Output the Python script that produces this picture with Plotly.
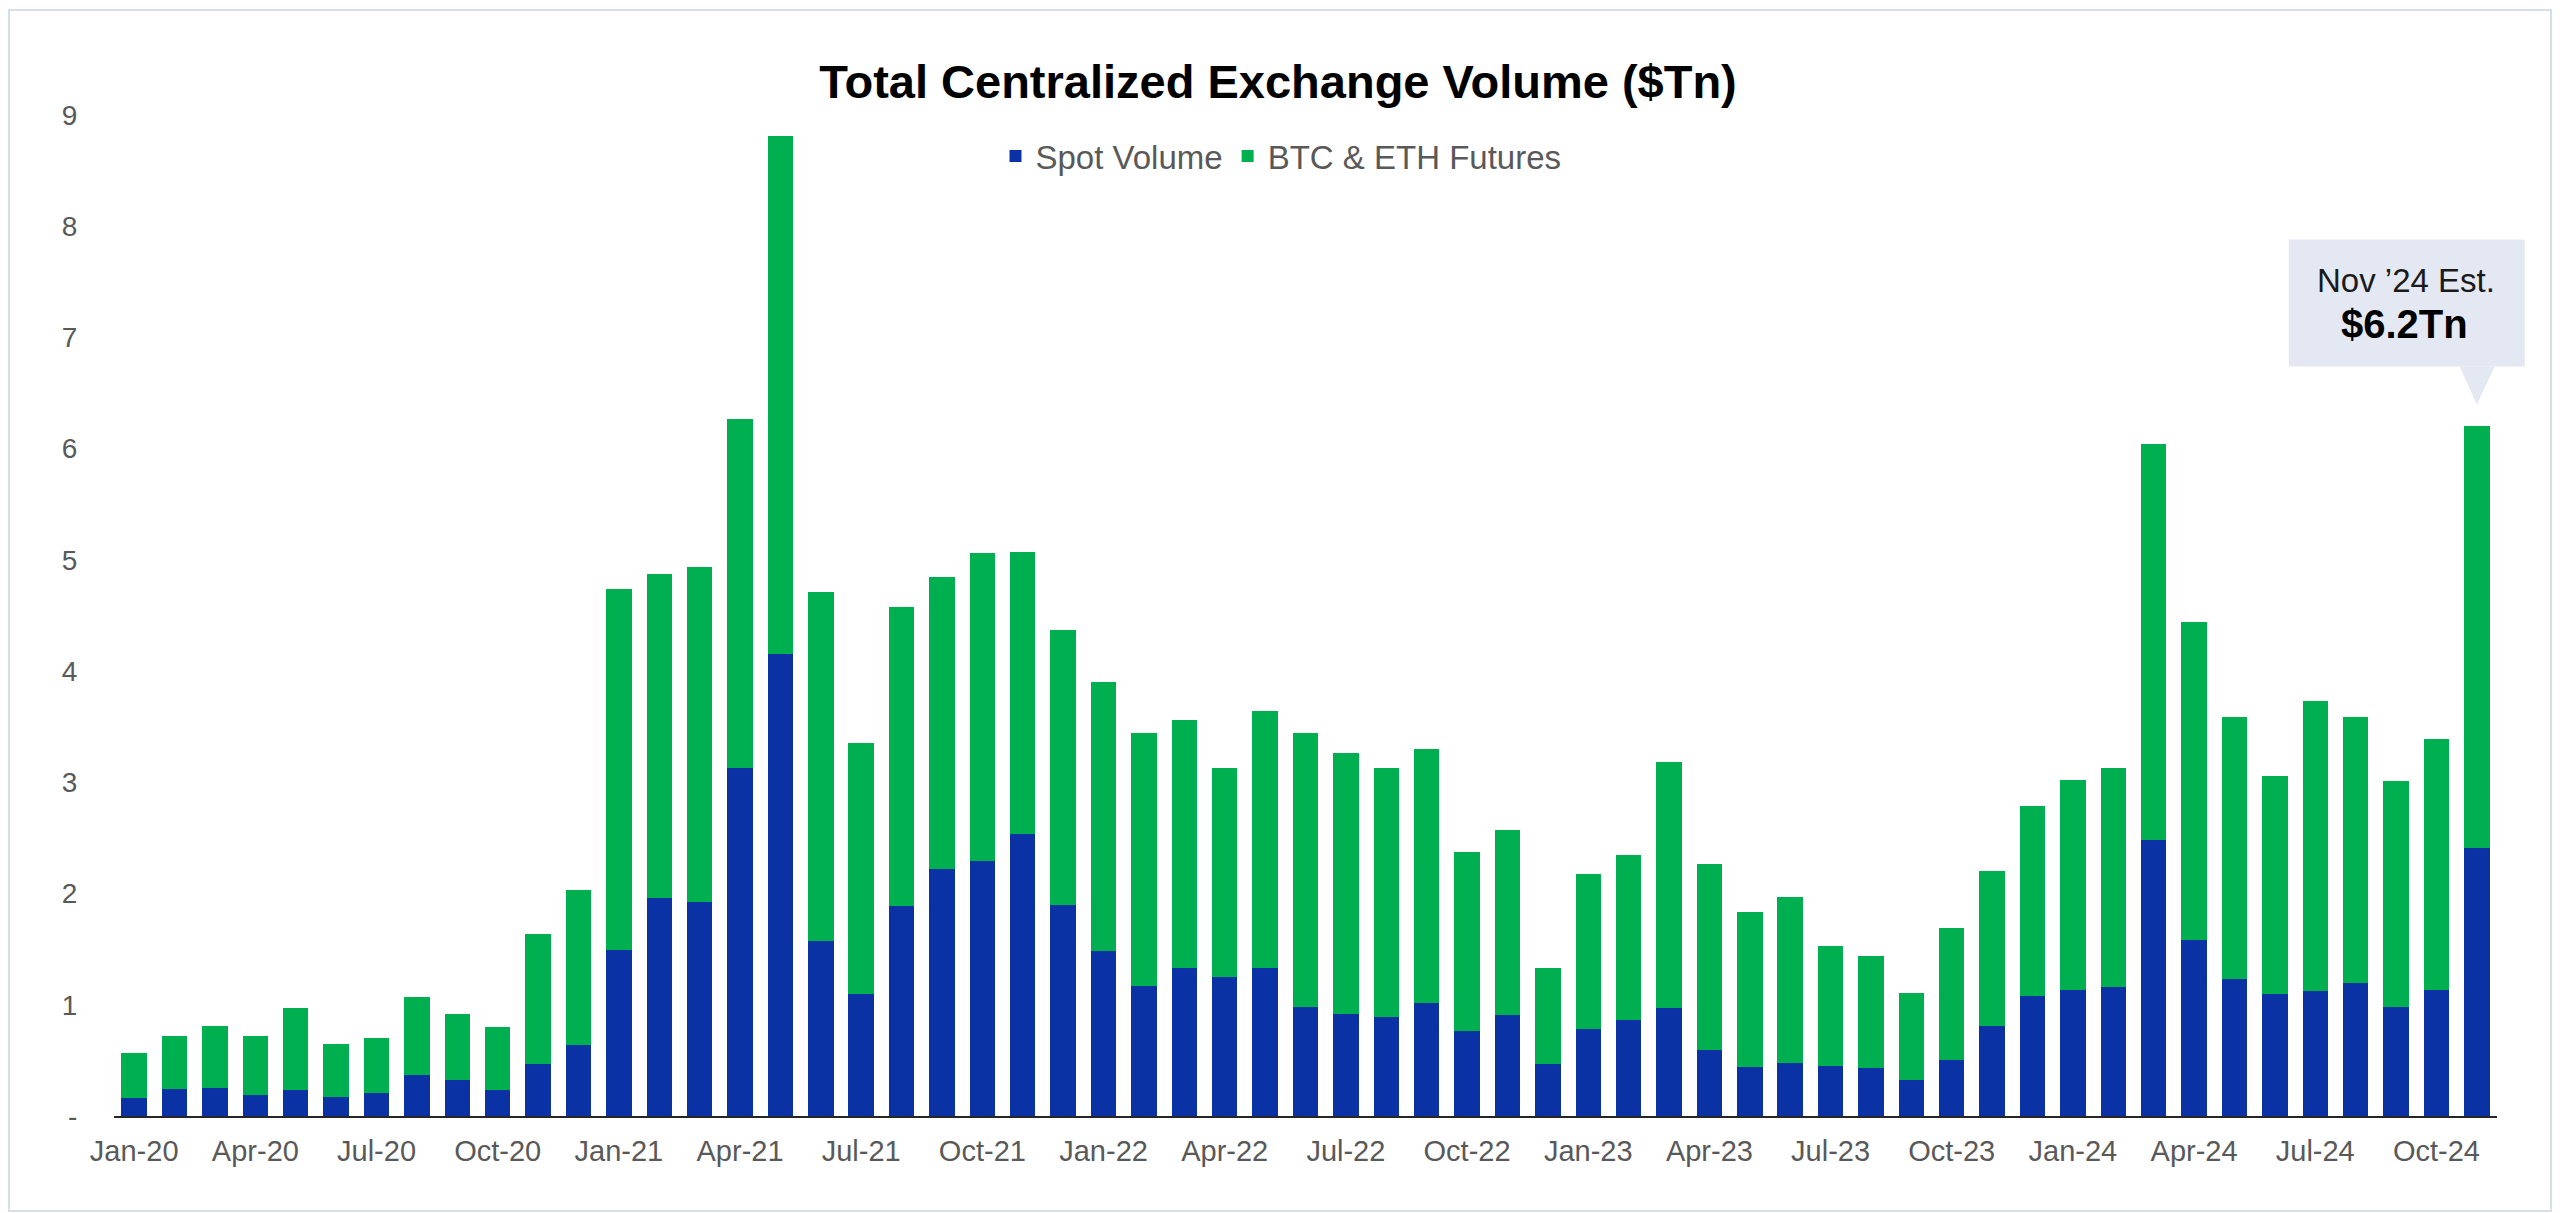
import pandas as pd
import plotly.graph_objects as go

# ---- data ----
months = list(pd.date_range("2020-01-01", periods=59, freq="MS").strftime("%b-%y"))

spot_volume = [
    0.16, 0.24, 0.25, 0.19, 0.23, 0.17, 0.21, 0.37, 0.32, 0.23, 0.47, 0.64,
    1.49, 1.96, 1.92, 3.13, 4.15, 1.57, 1.10, 1.89, 2.22, 2.29, 2.54, 1.90,
    1.48, 1.17, 1.33, 1.25, 1.33, 0.98, 0.92, 0.89, 1.02, 0.76, 0.91, 0.47,
    0.78, 0.86, 0.97, 0.59, 0.44, 0.48, 0.45, 0.43, 0.32, 0.50, 0.81, 1.08,
    1.13, 1.16, 2.48, 1.58, 1.23, 1.10, 1.12, 1.20, 0.98, 1.13, 2.41,
]

btc_eth_futures = [
    0.41, 0.48, 0.56, 0.53, 0.74, 0.48, 0.49, 0.70, 0.60, 0.57, 1.17, 1.39,
    3.25, 2.91, 3.02, 3.14, 4.66, 3.14, 2.25, 2.69, 2.63, 2.77, 2.53, 2.47,
    2.42, 2.27, 2.23, 1.88, 2.31, 2.46, 2.34, 2.24, 2.28, 1.61, 1.66, 0.86,
    1.40, 1.49, 2.21, 1.68, 1.39, 1.49, 1.08, 1.01, 0.79, 1.19, 1.39, 1.71,
    1.89, 1.97, 3.56, 2.86, 2.36, 1.96, 2.61, 2.39, 2.03, 2.26, 3.79,
]

x_tick_vals = months[::3]
y_tick_vals = [0, 1, 2, 3, 4, 5, 6, 7, 8, 9]
y_tick_text = ["-", "1", "2", "3", "4", "5", "6", "7", "8", "9"]

title_text = "Total Centralized Exchange Volume ($Tn)"
callout_label = "Nov \u201924 Est."

# ---- styling ----
FONT = "Liberation Sans, Arial, sans-serif"
BLUE = "#0B32A4"
GREEN = "#00AF50"
GREY = "#595959"

W, H = 2560, 1213
ML, MR, MT, MB = 106, 71, 107, 105
PW, PH = W - ML - MR, H - MT - MB
Y_MAX = y_tick_vals[-1]

fig = go.Figure()
fig.add_trace(go.Bar(x=months, y=spot_volume, name="Spot Volume",
                     marker=dict(color=BLUE, line=dict(width=0))))
fig.add_trace(go.Bar(x=months, y=btc_eth_futures, name="BTC & ETH Futures",
                     marker=dict(color=GREEN, line=dict(width=0))))

last_cat = months[-1]
last_total = spot_volume[-1] + btc_eth_futures[-1]
# anchor of the last bar's top, in paper fractions (so the callout is not clipped)
anchor_x = (len(months) - 1 + 0.5) / len(months)
anchor_y = last_total / Y_MAX

# callout box + pointer anchored to the last bar
fig.add_shape(type="rect", xref="paper", yref="paper", xsizemode="pixel", ysizemode="pixel",
              xanchor=anchor_x, yanchor=anchor_y,
              x0=-188, x1=48, y0=60, y1=187,
              fillcolor="#E4E8F2", line=dict(width=0), layer="above")
fig.add_shape(type="path", xref="paper", yref="paper", xsizemode="pixel", ysizemode="pixel",
              xanchor=anchor_x, yanchor=anchor_y,
              path="M -17,60 L 18,60 L 0,22 Z",
              fillcolor="#E4E8F2", line=dict(width=0), layer="above")
fig.add_annotation(x=last_cat, y=last_total, xref="x", yref="y",
                   text=callout_label, showarrow=False,
                   xshift=-71, yshift=146,
                   font=dict(family=FONT, size=33, color="#1a1a1a"))
fig.add_annotation(x=last_cat, y=last_total, xref="x", yref="y",
                   text=f"<b>${last_total:.1f}Tn</b>", showarrow=False,
                   xshift=-72, yshift=102,
                   font=dict(family=FONT, size=40, color="#000000"))

# outer chart border
fig.add_shape(type="rect", xref="paper", yref="paper",
              x0=(1 - ML) / PW, x1=(2543 - ML) / PW,
              y0=(H - MB - 1203) / PH, y1=(H - MB - 2) / PH,
              line=dict(color="#D6DEEB", width=2), fillcolor="rgba(0,0,0,0)", layer="below")

fig.update_layout(
    barmode="stack",
    bargap=0.37,
    width=W, height=H,
    paper_bgcolor="white", plot_bgcolor="white",
    margin=dict(l=ML, r=MR, t=MT, b=MB, autoexpand=False),
    title=dict(text=title_text, x=1270 / W, xref="container", xanchor="center",
               y=1 - 74 / H, yref="container", yanchor="middle",
               font=dict(family=FONT, size=47, color="#000000", weight="bold")),
    legend=dict(orientation="h", x=(1273 - ML) / PW, xanchor="center",
                y=(H - MB - 148) / PH, yanchor="middle",
                font=dict(family=FONT, size=33, color=GREY),
                bgcolor="rgba(0,0,0,0)", traceorder="normal"),
    showlegend=True,
    font=dict(family=FONT),
)

fig.update_xaxes(
    type="category", categoryorder="array", categoryarray=months,
    tickmode="array", tickvals=x_tick_vals, ticktext=x_tick_vals,
    tickfont=dict(family=FONT, size=29, color=GREY),
    ticks="outside", ticklen=8, tickcolor="rgba(0,0,0,0)",
    showline=True, linecolor="#262626", linewidth=2,
    showgrid=False, zeroline=False, range=[-0.5, len(months) - 0.5],
)
fig.update_yaxes(
    range=[0, Y_MAX], tickmode="array", tickvals=y_tick_vals, ticktext=y_tick_text,
    tickfont=dict(family=FONT, size=28, color=GREY),
    ticks="outside", ticklen=30, tickcolor="rgba(0,0,0,0)",
    showline=False, showgrid=False, zeroline=False,
)

fig.write_html("out.html")
